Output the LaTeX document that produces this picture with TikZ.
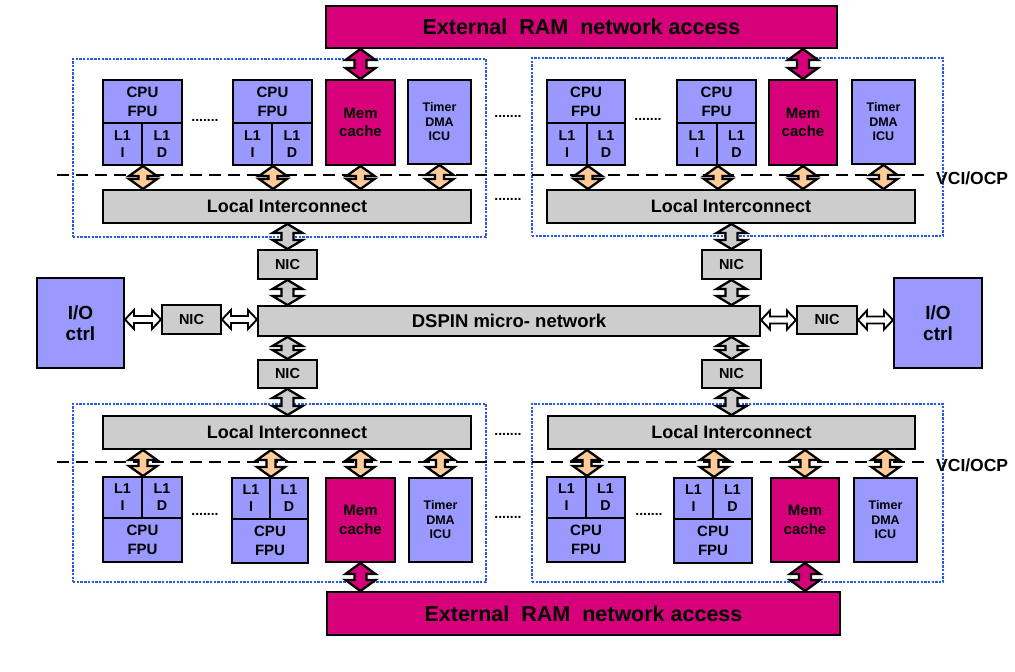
\documentclass[tikz,border=0pt]{standalone}
\usepackage{fontspec}
\setmainfont{Liberation Sans}
\usetikzlibrary{calc}
\definecolor{blu}{RGB}{153,153,255}
\definecolor{mag}{RGB}{214,0,122}
\definecolor{gry}{RGB}{205,205,205}
\definecolor{orng}{RGB}{255,204,153}
\definecolor{dotblue}{RGB}{40,90,230}
\newcommand\fs[2]{\fontsize{#1}{#2}\selectfont\bfseries}
% box from corners: name, x1, y1, x2, y2, style, text
\newcommand\bx[7]{%
  \pgfmathsetmacro\bxw{(#4)-(#2)}%
  \pgfmathsetmacro\bxh{(#5)-(#3)}%
  \pgfmathsetmacro\bxx{((#2)+(#4))/2}%
  \pgfmathsetmacro\bxy{((#3)+(#5))/2}%
  \node[#6, minimum width=\bxw pt, minimum height=\bxh pt] (#1) at (\bxx,\bxy) {#7};}
% vertical double arrow: fill, half shaft, half head, head length, upper, lower
\newcommand\VArr[6]{%
  \draw[arr, fill=#1] let \p1=(#5), \p2=(#6) in
   (\x1,\y1) -- (\x1+#3pt,\y1-#4pt) -- (\x1+#2pt,\y1-#4pt) -- (\x1+#2pt,\y2+#4pt)
   -- (\x1+#3pt,\y2+#4pt) -- (\x1,\y2) -- (\x1-#3pt,\y2+#4pt) -- (\x1-#2pt,\y2+#4pt)
   -- (\x1-#2pt,\y1-#4pt) -- (\x1-#3pt,\y1-#4pt) -- cycle;}
% horizontal double arrow: fill, half shaft, half head, head length, left, right
\newcommand\HArr[6]{%
  \draw[harr, fill=#1] let \p1=(#5), \p2=(#6) in
   (\x1,\y1) -- (\x1+#4pt,\y1+#3pt) -- (\x1+#4pt,\y1+#2pt) -- (\x2-#4pt,\y1+#2pt)
   -- (\x2-#4pt,\y1+#3pt) -- (\x2,\y1) -- (\x2-#4pt,\y1-#3pt) -- (\x2-#4pt,\y1-#2pt)
   -- (\x1+#4pt,\y1-#2pt) -- (\x1+#4pt,\y1-#3pt) -- cycle;}
\begin{document}
\begin{tikzpicture}[x=1pt,y=-1pt,
  base/.style={draw=black, line width=2pt, inner sep=0pt, align=center, text=black},
  bluebox/.style={base, fill=blu},
  magbox/.style={base, fill=mag},
  grybox/.style={base, fill=gry},
  grp/.style={draw=dotblue, line width=2.6pt, dash pattern=on 2.4pt off 1.3pt},
  vci/.style={draw=black, line width=2.8pt, dash pattern=on 12pt off 7pt},
  arr/.style={draw=black, line width=2.3pt, line join=miter},
  harr/.style={draw=black, line width=1.9pt, line join=miter},
  dots/.style={inner sep=0pt, font=\fs{14}{14}},
  cpuf/.style={font=\fs{15}{19}},
  l1f/.style={font=\fs{14.3}{17}},
  memf/.style={font=\fs{15}{18.5}},
  tmrf/.style={font=\fs{12.5}{14.5}},
  nicf/.style={font=\fs{14.5}{16}},
  lif/.style={font=\fs{18}{18}},
  iof/.style={font=\fs{19}{21.5}},
  extf/.style={font=\fs{21.5}{22}}
]
\useasboundingbox (0,0) rectangle (1015,672);

% dotted groups
\bx{gA}{73}{59}{486}{237}{grp}{}
\bx{gB}{532}{58}{943}{236}{grp}{}
\bx{gC}{73}{404}{486}{582}{grp}{}
\bx{gD}{532}{404}{943}{582}{grp}{}

% VCI/OCP dashed lines
\coordinate (v1s) at (57,175);
\coordinate (v1e) at (925,175);
\coordinate (v2s) at (57,462);
\coordinate (v2e) at (925,462);
\draw[vci] (v1s) -- (v1e);
\draw[vci] (v2s) -- (v2e);
\node[anchor=west, inner sep=0pt, font=\fs{17.5}{18}] (vciA) at (936,178) {VCI/OCP};
\node[anchor=west, inner sep=0pt, font=\fs{17.5}{18}] (vciB) at (936,465) {VCI/OCP};

% external RAM
\bx{extA}{326}{6}{837}{48}{magbox,extf}{External\ \ RAM\ \ network access}
\bx{extB}{327}{592}{840}{635}{magbox,extf}{External\ \ RAM\ \ network access}

% ---- top-left cluster
\bx{cpuA1}{103}{80}{182}{123}{bluebox,cpuf}{CPU\\FPU}
\bx{l1iA1}{103}{123}{142}{165}{bluebox,l1f}{L1\\I}
\bx{l1dA1}{142}{123}{182}{165}{bluebox,l1f}{L1\\D}
\bx{cpuA2}{233}{80}{312}{123}{bluebox,cpuf}{CPU\\FPU}
\bx{l1iA2}{233}{123}{272}{165}{bluebox,l1f}{L1\\I}
\bx{l1dA2}{272}{123}{312}{165}{bluebox,l1f}{L1\\D}
\bx{memA}{326}{80}{395}{165}{magbox,memf}{Mem\\cache}
\bx{tmrA}{408}{80}{471}{164}{bluebox,tmrf}{Timer\\DMA\\ICU}
\bx{liA}{103}{190}{471}{223}{grybox,lif}{Local Interconnect}

% ---- top-right cluster
\bx{cpuB1}{547}{80}{625}{123}{bluebox,cpuf}{CPU\\FPU}
\bx{l1iB1}{547}{123}{587}{165}{bluebox,l1f}{L1\\I}
\bx{l1dB1}{587}{123}{625}{165}{bluebox,l1f}{L1\\D}
\bx{cpuB2}{677}{80}{756}{123}{bluebox,cpuf}{CPU\\FPU}
\bx{l1iB2}{677}{123}{717}{165}{bluebox,l1f}{L1\\I}
\bx{l1dB2}{717}{123}{756}{165}{bluebox,l1f}{L1\\D}
\bx{memB}{769}{80}{837}{165}{magbox,memf}{Mem\\cache}
\bx{tmrB}{852}{80}{915}{164}{bluebox,tmrf}{Timer\\DMA\\ICU}
\bx{liB}{547}{190}{915}{223}{grybox,lif}{Local Interconnect}

% ---- middle
\bx{nicA}{258}{250}{317}{279}{grybox,nicf}{NIC}
\bx{nicB}{702}{250}{761}{279}{grybox,nicf}{NIC}
\bx{dspin}{258}{306}{760}{336}{grybox,font=\fs{18.5}{19}}{DSPIN micro- network}
\bx{nicL}{162}{305}{221}{334}{grybox,nicf}{NIC}
\bx{nicR}{797}{306}{857}{334}{grybox,nicf}{NIC}
\bx{ioL}{37}{278}{124}{368}{bluebox,iof}{I/O\\ctrl}
\bx{ioR}{894}{278}{982}{368}{bluebox,iof}{I/O\\ctrl}
\bx{nicC}{258}{360}{317}{388}{grybox,nicf}{NIC}
\bx{nicD}{702}{360}{761}{388}{grybox,nicf}{NIC}

% ---- bottom-left cluster
\bx{liC}{103}{416}{471}{449}{grybox,lif}{Local Interconnect}
\bx{l1iC1}{103}{477}{142}{518}{bluebox,l1f}{L1\\I}
\bx{l1dC1}{142}{477}{182}{518}{bluebox,l1f}{L1\\D}
\bx{cpuC1}{103}{518}{182}{562}{bluebox,cpuf}{CPU\\FPU}
\bx{l1iC2}{232}{478}{270}{519}{bluebox,l1f}{L1\\I}
\bx{l1dC2}{270}{478}{308}{519}{bluebox,l1f}{L1\\D}
\bx{cpuC2}{232}{519}{308}{563}{bluebox,cpuf}{CPU\\FPU}
\bx{memC}{326}{478}{395}{562}{magbox,memf}{Mem\\cache}
\bx{tmrC}{409}{478}{472}{562}{bluebox,tmrf}{Timer\\DMA\\ICU}

% ---- bottom-right cluster
\bx{liD}{548}{416}{915}{449}{grybox,lif}{Local Interconnect}
\bx{l1iD1}{547}{477}{586}{518}{bluebox,l1f}{L1\\I}
\bx{l1dD1}{586}{477}{625}{518}{bluebox,l1f}{L1\\D}
\bx{cpuD1}{547}{518}{625}{562}{bluebox,cpuf}{CPU\\FPU}
\bx{l1iD2}{674}{478}{713}{519}{bluebox,l1f}{L1\\I}
\bx{l1dD2}{713}{478}{752}{519}{bluebox,l1f}{L1\\D}
\bx{cpuD2}{674}{519}{752}{563}{bluebox,cpuf}{CPU\\FPU}
\bx{memD}{771}{478}{839}{562}{magbox,memf}{Mem\\cache}
\bx{tmrD}{854}{478}{917}{562}{bluebox,tmrf}{Timer\\DMA\\ICU}

% ---- dots
\node[dots] (dt1) at (205,120) {.......};
\node[dots] (dt2) at (508,116) {.......};
\node[dots] (dt3) at (508,199) {.......};
\node[dots] (dt4) at (648,119) {.......};
\node[dots] (dt5) at (205,514) {.......};
\node[dots] (dt6) at (508,434) {.......};
\node[dots] (dt7) at (508,517) {.......};
\node[dots] (dt8) at (649,514) {.......};

% ---- arrows: external RAM <-> mem cache
\VArr{mag}{6}{15}{11}{extA.south -| memA.north}{memA.north}
\VArr{mag}{6}{15}{11}{extA.south -| memB.north}{memB.north}
\VArr{mag}{6}{15}{11}{memC.south}{extB.north -| memC.south}
\VArr{mag}{6}{15}{11}{memD.south}{extB.north -| memD.south}

% ---- arrows: units <-> local interconnect (top)
\VArr{orng}{4.5}{14}{10}{l1iA1.south east}{liA.north -| l1iA1.south east}
\VArr{orng}{4.5}{14}{10}{l1iA2.south east}{liA.north -| l1iA2.south east}
\VArr{orng}{4.5}{14}{10}{memA.south}{liA.north -| memA.south}
\VArr{orng}{4.5}{14}{10}{tmrA.south}{liA.north -| tmrA.south}
\VArr{orng}{4.5}{14}{10}{l1iB1.south east}{liB.north -| l1iB1.south east}
\VArr{orng}{4.5}{14}{10}{l1iB2.south east}{liB.north -| l1iB2.south east}
\VArr{orng}{4.5}{14}{10}{memB.south}{liB.north -| memB.south}
\VArr{orng}{4.5}{14}{10}{tmrB.south}{liB.north -| tmrB.south}

% ---- arrows: local interconnect <-> units (bottom)
\VArr{orng}{4.5}{14}{10}{liC.south -| l1iC1.north east}{l1iC1.north east}
\VArr{orng}{4.5}{14}{10}{liC.south -| l1iC2.north east}{l1iC2.north east}
\VArr{orng}{4.5}{14}{10}{liC.south -| memC.north}{memC.north}
\VArr{orng}{4.5}{14}{10}{liC.south -| tmrC.north}{tmrC.north}
\VArr{orng}{4.5}{14}{10}{liD.south -| l1iD1.north east}{l1iD1.north east}
\VArr{orng}{4.5}{14}{10}{liD.south -| l1iD2.north east}{l1iD2.north east}
\VArr{orng}{4.5}{14}{10}{liD.south -| memD.north}{memD.north}
\VArr{orng}{4.5}{14}{10}{liD.south -| tmrD.north}{tmrD.north}

% ---- arrows: interconnect / NIC / DSPIN
\VArr{gry}{6}{15}{9}{liA.south -| nicA.north}{nicA.north}
\VArr{gry}{6}{15}{9}{nicA.south}{dspin.north -| nicA.south}
\VArr{gry}{6}{15}{9}{dspin.south -| nicC.north}{nicC.north}
\VArr{gry}{6}{15}{9}{nicC.south}{liC.north -| nicC.south}
\VArr{gry}{6}{15}{9}{liB.south -| nicB.north}{nicB.north}
\VArr{gry}{6}{15}{9}{nicB.south}{dspin.north -| nicB.south}
\VArr{gry}{6}{15}{9}{dspin.south -| nicD.north}{nicD.north}
\VArr{gry}{6}{15}{9}{nicD.south}{liD.north -| nicD.south}

% ---- horizontal arrows: I/O <-> NIC <-> DSPIN
\HArr{white}{3.5}{9.5}{9}{nicL.west -| ioL.east}{nicL.west}
\HArr{white}{3.5}{9.5}{9}{nicL.east}{dspin.west |- nicL.east}
\HArr{white}{3.5}{9.5}{9}{dspin.east |- nicR.west}{nicR.west}
\HArr{white}{3.5}{9.5}{9}{nicR.east}{ioR.west |- nicR.east}
\end{tikzpicture}
\end{document}
